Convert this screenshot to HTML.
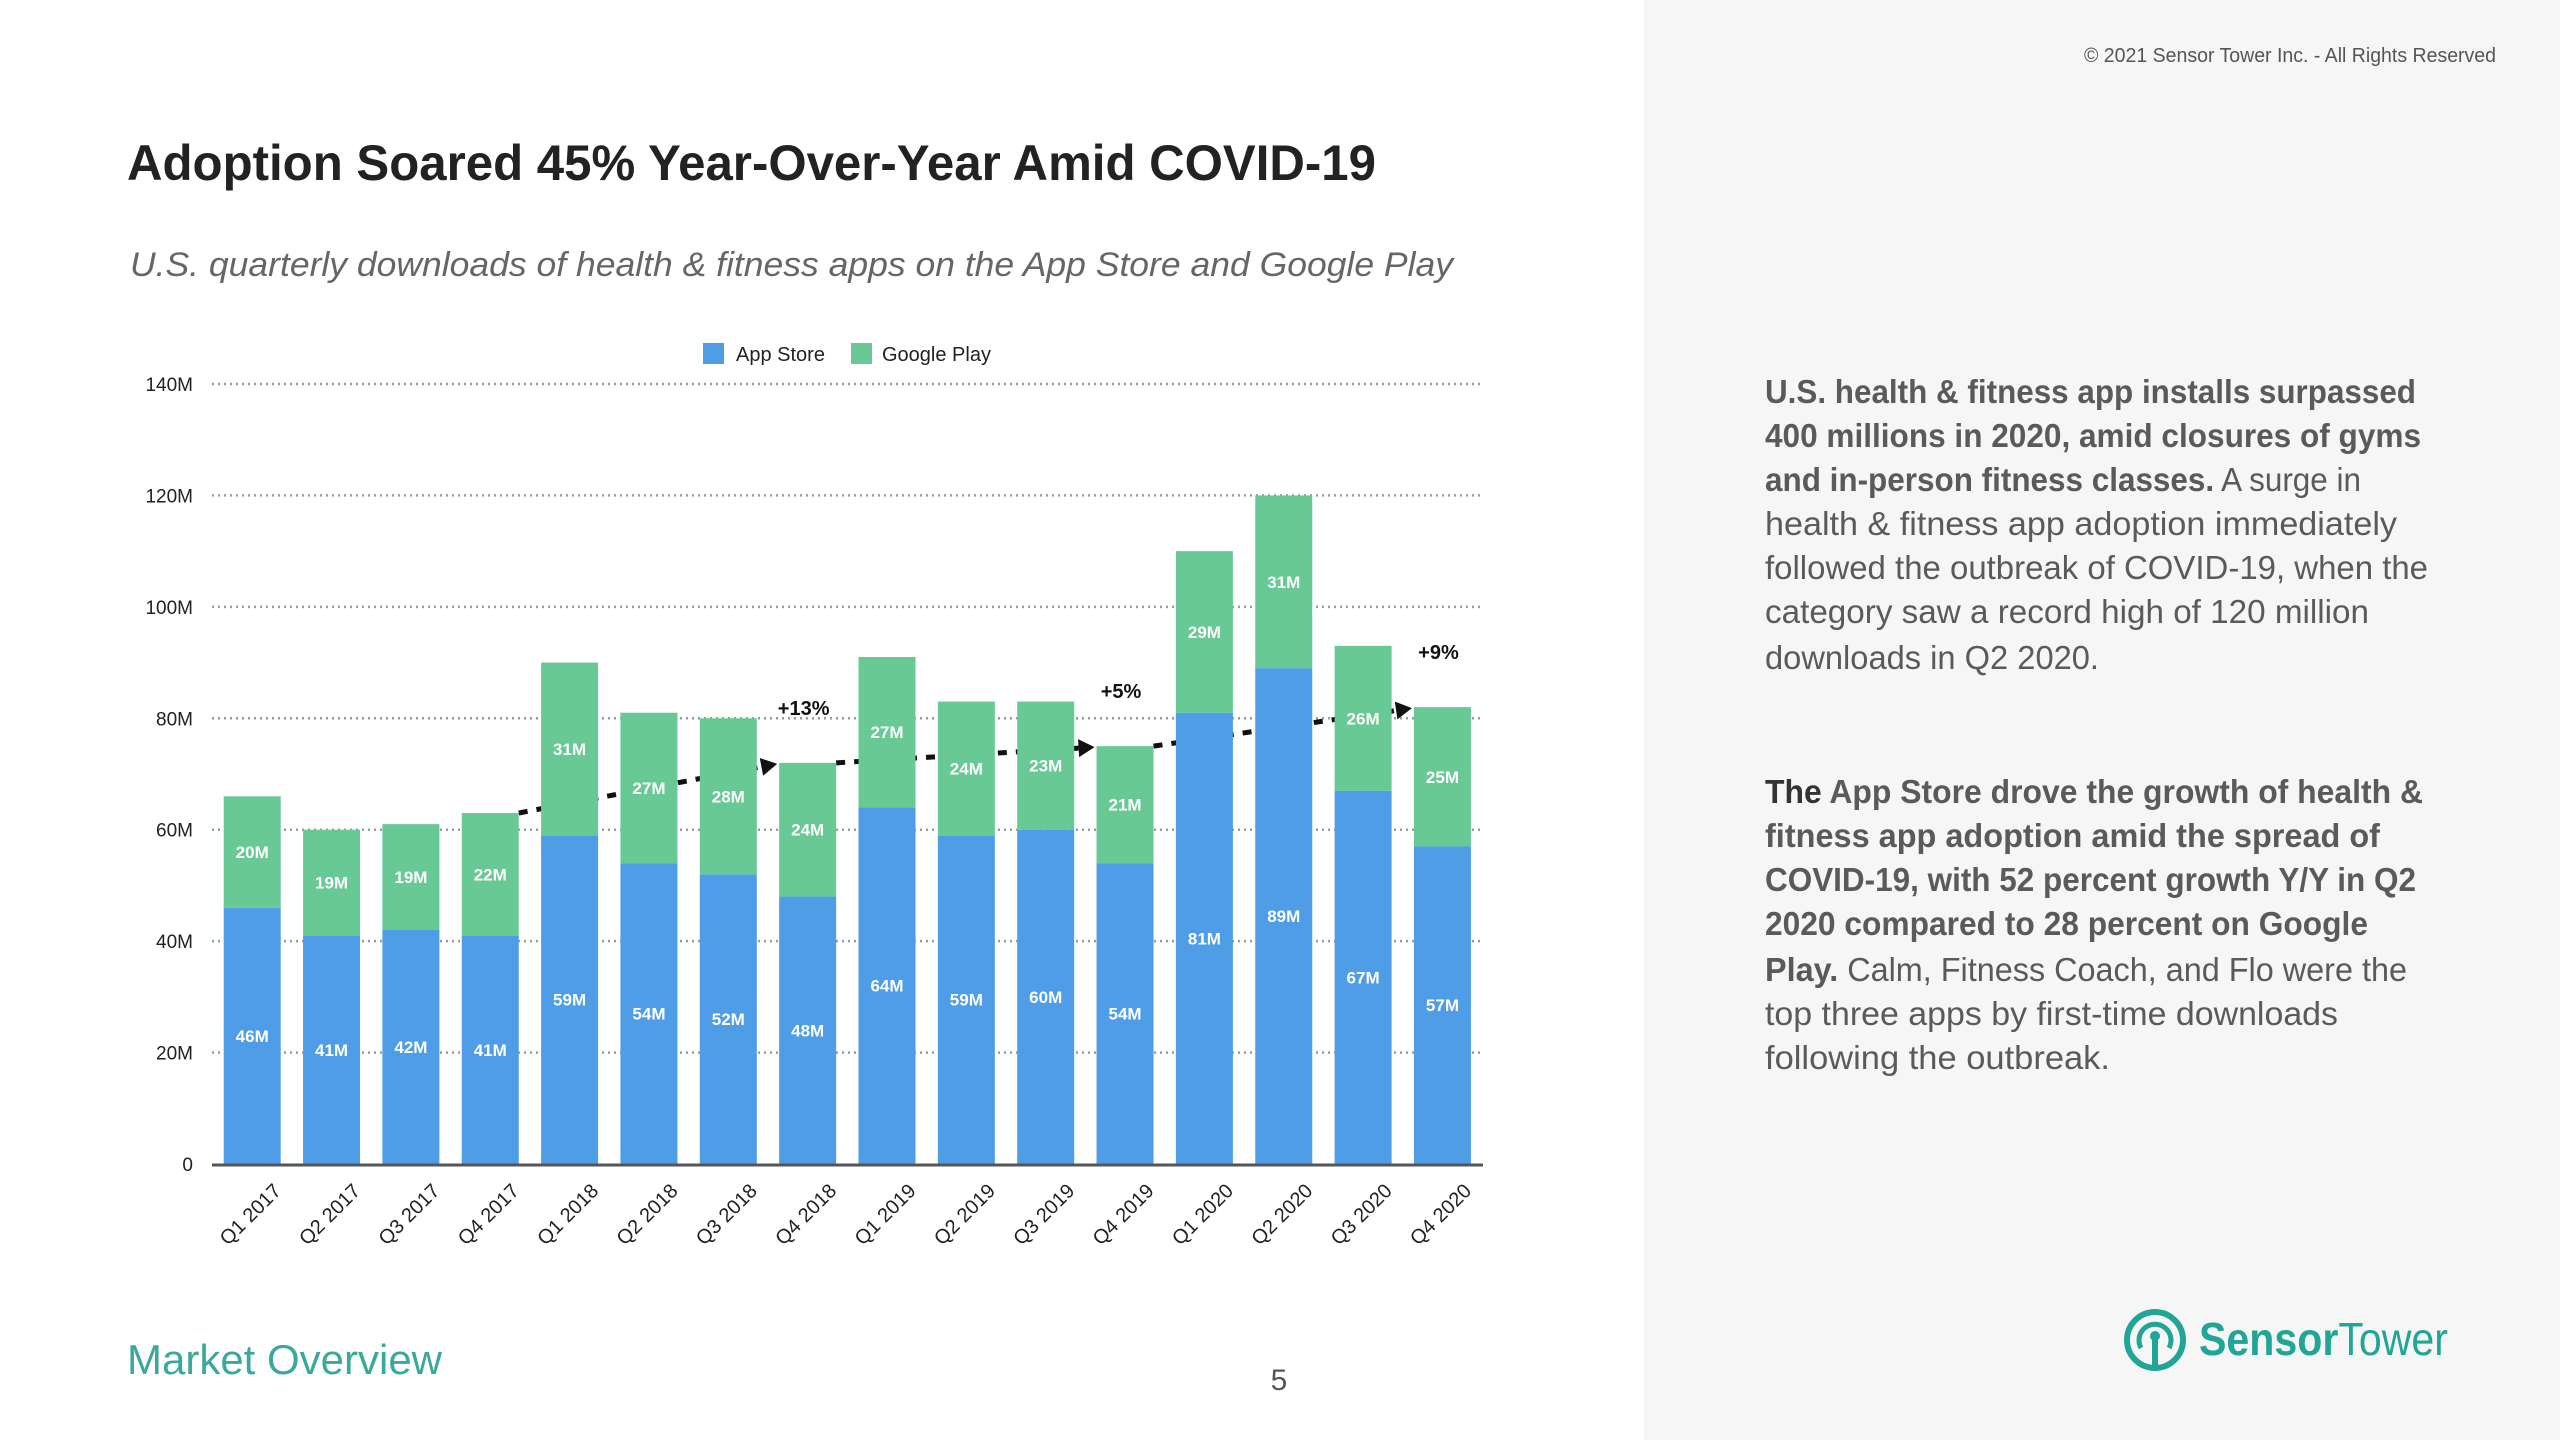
<!DOCTYPE html>
<html><head><meta charset="utf-8"><style>
html,body{margin:0;padding:0;background:#fff}
svg{display:block}
text{font-family:"Liberation Sans",sans-serif}
</style></head><body>
<svg id="root" width="2560" height="1440" viewBox="0 0 2560 1440" xmlns="http://www.w3.org/2000/svg">
<rect x="0" y="0" width="2560" height="1440" fill="#fff"/>
<rect x="1644" y="0" width="916" height="1440" fill="#f6f6f6"/>
<text x="2496" y="62" text-anchor="end" font-size="20" fill="#555" textLength="412" lengthAdjust="spacingAndGlyphs">© 2021 Sensor Tower Inc. - All Rights Reserved</text>
<text x="127" y="180" font-size="50" font-weight="bold" fill="#222" textLength="1249" lengthAdjust="spacingAndGlyphs">Adoption Soared 45% Year-Over-Year Amid COVID-19</text>
<text x="130" y="276" font-size="34" font-style="italic" fill="#666" textLength="1323" lengthAdjust="spacingAndGlyphs">U.S. quarterly downloads of health &amp; fitness apps on the App Store and Google Play</text>

<g>
<rect x="703" y="343" width="21" height="21" fill="#4e9de6"/>
<text x="736" y="361" font-size="20" fill="#222">App Store</text>
<rect x="851" y="343" width="21" height="21" fill="#68c995"/>
<text x="882" y="361" font-size="20" fill="#222">Google Play</text>
</g>
<g id="grid"></g>
<g id="yaxis"></g>
<g id="arrows"></g>
<g id="bars"></g>
<g id="annot"></g>
<g id="xaxis"></g>

<g font-size="33" fill="#5a5a5a">
<text x="1765" y="403" textLength="651" lengthAdjust="spacingAndGlyphs" font-weight="bold">U.S. health &amp; fitness app installs surpassed</text>
<text x="1765" y="447" textLength="656" lengthAdjust="spacingAndGlyphs" font-weight="bold">400 millions in 2020, amid closures of gyms</text>
<text x="1765" y="491" textLength="596" lengthAdjust="spacingAndGlyphs"><tspan font-weight="bold">and in-person fitness classes.</tspan> A surge in</text>
<text x="1765" y="535" textLength="632" lengthAdjust="spacingAndGlyphs">health &amp; fitness app adoption immediately</text>
<text x="1765" y="579" textLength="663" lengthAdjust="spacingAndGlyphs">followed the outbreak of COVID-19, when the</text>
<text x="1765" y="623" textLength="604" lengthAdjust="spacingAndGlyphs">category saw a record high of 120 million</text>
<text x="1765" y="669" textLength="334" lengthAdjust="spacingAndGlyphs">downloads in Q2 2020.</text>
<text x="1765" y="803" textLength="658" lengthAdjust="spacingAndGlyphs"><tspan font-weight="bold" fill="#333">The</tspan><tspan font-weight="bold"> App Store drove the growth of health &amp;</tspan></text>
<text x="1765" y="847" textLength="615" lengthAdjust="spacingAndGlyphs" font-weight="bold">fitness app adoption amid the spread of</text>
<text x="1765" y="891" textLength="651" lengthAdjust="spacingAndGlyphs" font-weight="bold">COVID-19, with 52 percent growth Y/Y in Q2</text>
<text x="1765" y="935" textLength="603" lengthAdjust="spacingAndGlyphs" font-weight="bold">2020 compared to 28 percent on Google</text>
<text x="1765" y="981" textLength="642" lengthAdjust="spacingAndGlyphs"><tspan font-weight="bold">Play.</tspan> Calm, Fitness Coach, and Flo were the</text>
<text x="1765" y="1025" textLength="573" lengthAdjust="spacingAndGlyphs">top three apps by first-time downloads</text>
<text x="1765" y="1069" textLength="345" lengthAdjust="spacingAndGlyphs">following the outbreak.</text>
</g>

<text x="127" y="1374" font-size="42" fill="#3aa99b" textLength="315" lengthAdjust="spacingAndGlyphs">Market Overview</text>
<text x="1279" y="1390" font-size="30" fill="#555" text-anchor="middle">5</text>

<g>
<circle cx="2155" cy="1340" r="28" fill="none" stroke="#20a596" stroke-width="6"/>
<path d="M2141 1348 A16 16 0 1 1 2169 1348" fill="none" stroke="#20a596" stroke-width="5"/>
<line x1="2155" y1="1336" x2="2155" y2="1368" stroke="#20a596" stroke-width="6"/>
<circle cx="2155" cy="1336" r="5" fill="#20a596"/>
<text x="2199" y="1355" font-size="46" fill="#20a596" textLength="249" lengthAdjust="spacingAndGlyphs"><tspan font-weight="bold">Sensor</tspan>Tower</text>
</g>
</svg>
<script>
const categories = ["Q1 2017","Q2 2017","Q3 2017","Q4 2017","Q1 2018","Q2 2018","Q3 2018","Q4 2018","Q1 2019","Q2 2019","Q3 2019","Q4 2019","Q1 2020","Q2 2020","Q3 2020","Q4 2020"];
const appStore = [46,41,42,41,59,54,52,48,64,59,60,54,81,89,67,57];
const googlePlay = [20,19,19,22,31,27,28,24,27,24,23,21,29,31,26,25];
const yTicks = [0,20,40,60,80,100,120,140];
const yTickLabels = ["0","20M","40M","60M","80M","100M","120M","140M"];
const growthFrom = [3,7,11];
const growthTo = [7,11,15];
const growthLabels = ["+13%","+5%","+9%"];

const NS = "http://www.w3.org/2000/svg";
const Y0 = 1164, YTOP = 384, VMAX = 140;
const X0 = 223.7, PITCH = 79.35, BW = 57;
const PL = 212, PR = 1483;
function y(v){ return Y0 - v*(Y0-YTOP)/VMAX; }
function xl(i){ return X0 + i*PITCH; }
function mk(tag, attrs, parent){
  const e = document.createElementNS(NS, tag);
  for (const k in attrs) e.setAttribute(k, attrs[k]);
  parent.appendChild(e); return e;
}
const grid = document.getElementById('grid');
const yaxis = document.getElementById('yaxis');
yTicks.forEach((t, i) => {
  if (t > 0) {
    const l = mk('line', {x1:PL, x2:PR, y1:y(t), y2:y(t), stroke:'#9a9a9a', 'stroke-width':2.5, 'stroke-dasharray':'2 4'}, grid);
    
    
  }
  const tx = mk('text', {x:193, y:y(t)+7, 'text-anchor':'end', 'font-size':19, fill:'#222'}, yaxis);
  tx.textContent = yTickLabels[i];
  
  
});
const bars = document.getElementById('bars');
const xaxis = document.getElementById('xaxis');
categories.forEach((c, i) => {
  const a = appStore[i], g = googlePlay[i];
  const rb = mk('rect', {x:xl(i), y:y(a), width:BW, height:y(0)-y(a), fill:'#4e9de6'}, bars);
  
  
  const rg = mk('rect', {x:xl(i), y:y(a+g), width:BW, height:y(a)-y(a+g), fill:'#68c995'}, bars);
  
  
  const la = mk('text', {x:xl(i)+BW/2, y:y(a/2)+6, 'text-anchor':'middle', 'font-size':17, 'font-weight':'bold', fill:'#fff'}, bars);
  la.textContent = a + 'M';
  
  
  const lg = mk('text', {x:xl(i)+BW/2, y:y(a+g/2)+6, 'text-anchor':'middle', 'font-size':17, 'font-weight':'bold', fill:'#fff'}, bars);
  lg.textContent = g + 'M';
  
  
  const cx = xl(i)+BW/2+30, cy = 1192;
  const xt = mk('text', {x:cx, y:cy, 'text-anchor':'end', 'font-size':20, fill:'#222', transform:'rotate(-45 '+cx+' '+cy+')'}, xaxis);
  xt.textContent = c;
  
  
});
const ax = mk('line', {x1:PL, x2:PR, y1:Y0+1, y2:Y0+1, stroke:'#555', 'stroke-width':3}, xaxis);



const arrows = document.getElementById('arrows');
const annot = document.getElementById('annot');
growthFrom.forEach((f, k) => {
  const t = growthTo[k];
  const x1 = xl(f)+BW, y1 = y(appStore[f]+googlePlay[f]);
  const x2 = xl(t)-2, y2 = y(appStore[t]+googlePlay[t])+1;
  const ang = Math.atan2(y2-y1, x2-x1);
  const hx = x2 - 16*Math.cos(ang), hy = y2 - 16*Math.sin(ang);
  const ln = mk('line', {x1:x1, y1:y1, x2:hx, y2:hy, stroke:'#111', 'stroke-width':5, 'stroke-dasharray':'9 9'}, arrows);
  
  
  const px = -Math.sin(ang)*9, py = Math.cos(ang)*9;
  const head = mk('polygon', {points:`${x2},${y2} ${hx+px},${hy+py} ${hx-px},${hy-py}`, fill:'#111'}, arrows);
  
  
  const lb = mk('text', {x:xl(t)+BW/2-4, y:y(appStore[t]+googlePlay[t])-48, 'text-anchor':'middle', 'font-size':20, 'font-weight':'bold', fill:'#111'}, annot);
  lb.textContent = growthLabels[k];
  
  
});
</script>
</body></html>
